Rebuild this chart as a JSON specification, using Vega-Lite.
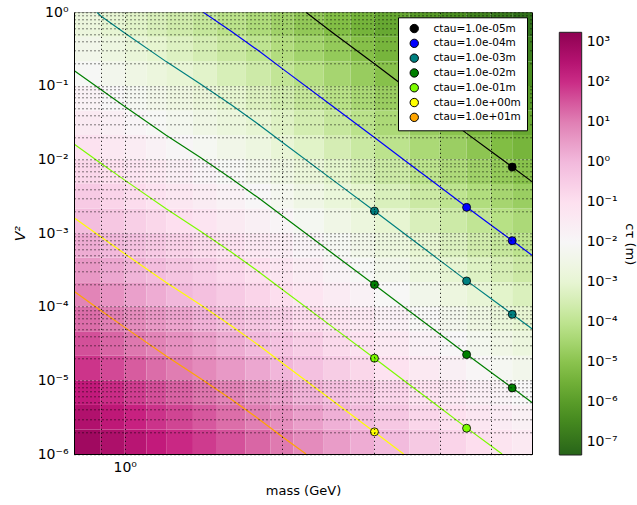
{
  "$schema": "https://vega.github.io/schema/vega-lite/v6.json",
  "width": 458,
  "height": 441.7,
  "autosize": {"type": "none"},
  "padding": {"left": 74, "top": 12.3, "right": 105, "bottom": 51},
  "config": {
    "font": "DejaVu Sans",
    "view": {"stroke": "black", "strokeWidth": 1}
  },
  "datasets": {
    "grid": [
      {"m0":0.8,"m1":0.9,"v0":1e-6,"v1":2.154e-6,"lc":2.91},{"m0":0.8,"m1":0.9,"v0":2.154e-6,"v1":4.642e-6,"lc":2.58},{"m0":0.8,"m1":0.9,"v0":4.642e-6,"v1":1e-5,"lc":2.25},{"m0":0.8,"m1":0.9,"v0":1e-5,"v1":2.154e-5,"lc":1.91},{"m0":0.8,"m1":0.9,"v0":2.154e-5,"v1":4.642e-5,"lc":1.58},{"m0":0.8,"m1":0.9,"v0":4.642e-5,"v1":1e-4,"lc":1.25},{"m0":0.8,"m1":0.9,"v0":1e-4,"v1":2.154e-4,"lc":0.91},{"m0":0.8,"m1":0.9,"v0":2.154e-4,"v1":4.642e-4,"lc":0.58},{"m0":0.8,"m1":0.9,"v0":4.642e-4,"v1":0.001,"lc":0.25},{"m0":0.8,"m1":0.9,"v0":0.001,"v1":0.002154,"lc":-0.09},{"m0":0.8,"m1":0.9,"v0":0.002154,"v1":0.004642,"lc":-0.42},{"m0":0.8,"m1":0.9,"v0":0.004642,"v1":0.01,"lc":-0.75},{"m0":0.8,"m1":0.9,"v0":0.01,"v1":0.02154,"lc":-1.09},{"m0":0.8,"m1":0.9,"v0":0.02154,"v1":0.04642,"lc":-1.42},{"m0":0.8,"m1":0.9,"v0":0.04642,"v1":0.1,"lc":-1.75},{"m0":0.8,"m1":0.9,"v0":0.1,"v1":0.2154,"lc":-2.09},{"m0":0.8,"m1":0.9,"v0":0.2154,"v1":0.4642,"lc":-2.42},{"m0":0.8,"m1":0.9,"v0":0.4642,"v1":1,"lc":-2.75},
      {"m0":0.9,"m1":1.0,"v0":1e-6,"v1":2.154e-6,"lc":2.66},{"m0":0.9,"m1":1.0,"v0":2.154e-6,"v1":4.642e-6,"lc":2.33},{"m0":0.9,"m1":1.0,"v0":4.642e-6,"v1":1e-5,"lc":2.0},{"m0":0.9,"m1":1.0,"v0":1e-5,"v1":2.154e-5,"lc":1.66},{"m0":0.9,"m1":1.0,"v0":2.154e-5,"v1":4.642e-5,"lc":1.33},{"m0":0.9,"m1":1.0,"v0":4.642e-5,"v1":1e-4,"lc":1.0},{"m0":0.9,"m1":1.0,"v0":1e-4,"v1":2.154e-4,"lc":0.66},{"m0":0.9,"m1":1.0,"v0":2.154e-4,"v1":4.642e-4,"lc":0.33},{"m0":0.9,"m1":1.0,"v0":4.642e-4,"v1":0.001,"lc":0.0},{"m0":0.9,"m1":1.0,"v0":0.001,"v1":0.002154,"lc":-0.34},{"m0":0.9,"m1":1.0,"v0":0.002154,"v1":0.004642,"lc":-0.67},{"m0":0.9,"m1":1.0,"v0":0.004642,"v1":0.01,"lc":-1.0},{"m0":0.9,"m1":1.0,"v0":0.01,"v1":0.02154,"lc":-1.34},{"m0":0.9,"m1":1.0,"v0":0.02154,"v1":0.04642,"lc":-1.67},{"m0":0.9,"m1":1.0,"v0":0.04642,"v1":0.1,"lc":-2.0},{"m0":0.9,"m1":1.0,"v0":0.1,"v1":0.2154,"lc":-2.34},{"m0":0.9,"m1":1.0,"v0":0.2154,"v1":0.4642,"lc":-2.67},{"m0":0.9,"m1":1.0,"v0":0.4642,"v1":1,"lc":-3.0},
      {"m0":1.0,"m1":1.1,"v0":1e-6,"v1":2.154e-6,"lc":2.45},{"m0":1.0,"m1":1.1,"v0":2.154e-6,"v1":4.642e-6,"lc":2.12},{"m0":1.0,"m1":1.1,"v0":4.642e-6,"v1":1e-5,"lc":1.79},{"m0":1.0,"m1":1.1,"v0":1e-5,"v1":2.154e-5,"lc":1.45},{"m0":1.0,"m1":1.1,"v0":2.154e-5,"v1":4.642e-5,"lc":1.12},{"m0":1.0,"m1":1.1,"v0":4.642e-5,"v1":1e-4,"lc":0.79},{"m0":1.0,"m1":1.1,"v0":1e-4,"v1":2.154e-4,"lc":0.45},{"m0":1.0,"m1":1.1,"v0":2.154e-4,"v1":4.642e-4,"lc":0.12},{"m0":1.0,"m1":1.1,"v0":4.642e-4,"v1":0.001,"lc":-0.21},{"m0":1.0,"m1":1.1,"v0":0.001,"v1":0.002154,"lc":-0.55},{"m0":1.0,"m1":1.1,"v0":0.002154,"v1":0.004642,"lc":-0.88},{"m0":1.0,"m1":1.1,"v0":0.004642,"v1":0.01,"lc":-1.21},{"m0":1.0,"m1":1.1,"v0":0.01,"v1":0.02154,"lc":-1.55},{"m0":1.0,"m1":1.1,"v0":0.02154,"v1":0.04642,"lc":-1.88},{"m0":1.0,"m1":1.1,"v0":0.04642,"v1":0.1,"lc":-2.21},{"m0":1.0,"m1":1.1,"v0":0.1,"v1":0.2154,"lc":-2.55},{"m0":1.0,"m1":1.1,"v0":0.2154,"v1":0.4642,"lc":-2.88},{"m0":1.0,"m1":1.1,"v0":0.4642,"v1":1,"lc":-3.21},
      {"m0":1.1,"m1":1.2,"v0":1e-6,"v1":2.154e-6,"lc":2.25},{"m0":1.1,"m1":1.2,"v0":2.154e-6,"v1":4.642e-6,"lc":1.92},{"m0":1.1,"m1":1.2,"v0":4.642e-6,"v1":1e-5,"lc":1.59},{"m0":1.1,"m1":1.2,"v0":1e-5,"v1":2.154e-5,"lc":1.25},{"m0":1.1,"m1":1.2,"v0":2.154e-5,"v1":4.642e-5,"lc":0.92},{"m0":1.1,"m1":1.2,"v0":4.642e-5,"v1":1e-4,"lc":0.59},{"m0":1.1,"m1":1.2,"v0":1e-4,"v1":2.154e-4,"lc":0.25},{"m0":1.1,"m1":1.2,"v0":2.154e-4,"v1":4.642e-4,"lc":-0.08},{"m0":1.1,"m1":1.2,"v0":4.642e-4,"v1":0.001,"lc":-0.41},{"m0":1.1,"m1":1.2,"v0":0.001,"v1":0.002154,"lc":-0.75},{"m0":1.1,"m1":1.2,"v0":0.002154,"v1":0.004642,"lc":-1.08},{"m0":1.1,"m1":1.2,"v0":0.004642,"v1":0.01,"lc":-1.41},{"m0":1.1,"m1":1.2,"v0":0.01,"v1":0.02154,"lc":-1.75},{"m0":1.1,"m1":1.2,"v0":0.02154,"v1":0.04642,"lc":-2.08},{"m0":1.1,"m1":1.2,"v0":0.04642,"v1":0.1,"lc":-2.41},{"m0":1.1,"m1":1.2,"v0":0.1,"v1":0.2154,"lc":-2.75},{"m0":1.1,"m1":1.2,"v0":0.2154,"v1":0.4642,"lc":-3.08},{"m0":1.1,"m1":1.2,"v0":0.4642,"v1":1,"lc":-3.41},
      {"m0":1.2,"m1":1.35,"v0":1e-6,"v1":2.154e-6,"lc":2.04},{"m0":1.2,"m1":1.35,"v0":2.154e-6,"v1":4.642e-6,"lc":1.71},{"m0":1.2,"m1":1.35,"v0":4.642e-6,"v1":1e-5,"lc":1.38},{"m0":1.2,"m1":1.35,"v0":1e-5,"v1":2.154e-5,"lc":1.04},{"m0":1.2,"m1":1.35,"v0":2.154e-5,"v1":4.642e-5,"lc":0.71},{"m0":1.2,"m1":1.35,"v0":4.642e-5,"v1":1e-4,"lc":0.38},{"m0":1.2,"m1":1.35,"v0":1e-4,"v1":2.154e-4,"lc":0.04},{"m0":1.2,"m1":1.35,"v0":2.154e-4,"v1":4.642e-4,"lc":-0.29},{"m0":1.2,"m1":1.35,"v0":4.642e-4,"v1":0.001,"lc":-0.62},{"m0":1.2,"m1":1.35,"v0":0.001,"v1":0.002154,"lc":-0.96},{"m0":1.2,"m1":1.35,"v0":0.002154,"v1":0.004642,"lc":-1.29},{"m0":1.2,"m1":1.35,"v0":0.004642,"v1":0.01,"lc":-1.62},{"m0":1.2,"m1":1.35,"v0":0.01,"v1":0.02154,"lc":-1.96},{"m0":1.2,"m1":1.35,"v0":0.02154,"v1":0.04642,"lc":-2.29},{"m0":1.2,"m1":1.35,"v0":0.04642,"v1":0.1,"lc":-2.62},{"m0":1.2,"m1":1.35,"v0":0.1,"v1":0.2154,"lc":-2.96},{"m0":1.2,"m1":1.35,"v0":0.2154,"v1":0.4642,"lc":-3.29},{"m0":1.2,"m1":1.35,"v0":0.4642,"v1":1,"lc":-3.62},
      {"m0":1.35,"m1":1.5,"v0":1e-6,"v1":2.154e-6,"lc":1.82},{"m0":1.35,"m1":1.5,"v0":2.154e-6,"v1":4.642e-6,"lc":1.49},{"m0":1.35,"m1":1.5,"v0":4.642e-6,"v1":1e-5,"lc":1.16},{"m0":1.35,"m1":1.5,"v0":1e-5,"v1":2.154e-5,"lc":0.82},{"m0":1.35,"m1":1.5,"v0":2.154e-5,"v1":4.642e-5,"lc":0.49},{"m0":1.35,"m1":1.5,"v0":4.642e-5,"v1":1e-4,"lc":0.16},{"m0":1.35,"m1":1.5,"v0":1e-4,"v1":2.154e-4,"lc":-0.18},{"m0":1.35,"m1":1.5,"v0":2.154e-4,"v1":4.642e-4,"lc":-0.51},{"m0":1.35,"m1":1.5,"v0":4.642e-4,"v1":0.001,"lc":-0.84},{"m0":1.35,"m1":1.5,"v0":0.001,"v1":0.002154,"lc":-1.18},{"m0":1.35,"m1":1.5,"v0":0.002154,"v1":0.004642,"lc":-1.51},{"m0":1.35,"m1":1.5,"v0":0.004642,"v1":0.01,"lc":-1.84},{"m0":1.35,"m1":1.5,"v0":0.01,"v1":0.02154,"lc":-2.18},{"m0":1.35,"m1":1.5,"v0":0.02154,"v1":0.04642,"lc":-2.51},{"m0":1.35,"m1":1.5,"v0":0.04642,"v1":0.1,"lc":-2.84},{"m0":1.35,"m1":1.5,"v0":0.1,"v1":0.2154,"lc":-3.18},{"m0":1.35,"m1":1.5,"v0":0.2154,"v1":0.4642,"lc":-3.51},{"m0":1.35,"m1":1.5,"v0":0.4642,"v1":1,"lc":-3.84},
      {"m0":1.5,"m1":1.7,"v0":1e-6,"v1":2.154e-6,"lc":1.57},{"m0":1.5,"m1":1.7,"v0":2.154e-6,"v1":4.642e-6,"lc":1.24},{"m0":1.5,"m1":1.7,"v0":4.642e-6,"v1":1e-5,"lc":0.91},{"m0":1.5,"m1":1.7,"v0":1e-5,"v1":2.154e-5,"lc":0.57},{"m0":1.5,"m1":1.7,"v0":2.154e-5,"v1":4.642e-5,"lc":0.24},{"m0":1.5,"m1":1.7,"v0":4.642e-5,"v1":1e-4,"lc":-0.09},{"m0":1.5,"m1":1.7,"v0":1e-4,"v1":2.154e-4,"lc":-0.43},{"m0":1.5,"m1":1.7,"v0":2.154e-4,"v1":4.642e-4,"lc":-0.76},{"m0":1.5,"m1":1.7,"v0":4.642e-4,"v1":0.001,"lc":-1.09},{"m0":1.5,"m1":1.7,"v0":0.001,"v1":0.002154,"lc":-1.43},{"m0":1.5,"m1":1.7,"v0":0.002154,"v1":0.004642,"lc":-1.76},{"m0":1.5,"m1":1.7,"v0":0.004642,"v1":0.01,"lc":-2.09},{"m0":1.5,"m1":1.7,"v0":0.01,"v1":0.02154,"lc":-2.43},{"m0":1.5,"m1":1.7,"v0":0.02154,"v1":0.04642,"lc":-2.76},{"m0":1.5,"m1":1.7,"v0":0.04642,"v1":0.1,"lc":-3.09},{"m0":1.5,"m1":1.7,"v0":0.1,"v1":0.2154,"lc":-3.43},{"m0":1.5,"m1":1.7,"v0":0.2154,"v1":0.4642,"lc":-3.76},{"m0":1.5,"m1":1.7,"v0":0.4642,"v1":1,"lc":-4.09},
      {"m0":1.7,"m1":1.9,"v0":1e-6,"v1":2.154e-6,"lc":1.33},{"m0":1.7,"m1":1.9,"v0":2.154e-6,"v1":4.642e-6,"lc":1.0},{"m0":1.7,"m1":1.9,"v0":4.642e-6,"v1":1e-5,"lc":0.67},{"m0":1.7,"m1":1.9,"v0":1e-5,"v1":2.154e-5,"lc":0.33},{"m0":1.7,"m1":1.9,"v0":2.154e-5,"v1":4.642e-5,"lc":0.0},{"m0":1.7,"m1":1.9,"v0":4.642e-5,"v1":1e-4,"lc":-0.33},{"m0":1.7,"m1":1.9,"v0":1e-4,"v1":2.154e-4,"lc":-0.67},{"m0":1.7,"m1":1.9,"v0":2.154e-4,"v1":4.642e-4,"lc":-1.0},{"m0":1.7,"m1":1.9,"v0":4.642e-4,"v1":0.001,"lc":-1.33},{"m0":1.7,"m1":1.9,"v0":0.001,"v1":0.002154,"lc":-1.67},{"m0":1.7,"m1":1.9,"v0":0.002154,"v1":0.004642,"lc":-2.0},{"m0":1.7,"m1":1.9,"v0":0.004642,"v1":0.01,"lc":-2.33},{"m0":1.7,"m1":1.9,"v0":0.01,"v1":0.02154,"lc":-2.67},{"m0":1.7,"m1":1.9,"v0":0.02154,"v1":0.04642,"lc":-3.0},{"m0":1.7,"m1":1.9,"v0":0.04642,"v1":0.1,"lc":-3.33},{"m0":1.7,"m1":1.9,"v0":0.1,"v1":0.2154,"lc":-3.67},{"m0":1.7,"m1":1.9,"v0":0.2154,"v1":0.4642,"lc":-4.0},{"m0":1.7,"m1":1.9,"v0":0.4642,"v1":1,"lc":-4.33},
      {"m0":1.9,"m1":2.1,"v0":1e-6,"v1":2.154e-6,"lc":1.08},{"m0":1.9,"m1":2.1,"v0":2.154e-6,"v1":4.642e-6,"lc":0.75},{"m0":1.9,"m1":2.1,"v0":4.642e-6,"v1":1e-5,"lc":0.42},{"m0":1.9,"m1":2.1,"v0":1e-5,"v1":2.154e-5,"lc":0.08},{"m0":1.9,"m1":2.1,"v0":2.154e-5,"v1":4.642e-5,"lc":-0.25},{"m0":1.9,"m1":2.1,"v0":4.642e-5,"v1":1e-4,"lc":-0.58},{"m0":1.9,"m1":2.1,"v0":1e-4,"v1":2.154e-4,"lc":-0.92},{"m0":1.9,"m1":2.1,"v0":2.154e-4,"v1":4.642e-4,"lc":-1.25},{"m0":1.9,"m1":2.1,"v0":4.642e-4,"v1":0.001,"lc":-1.58},{"m0":1.9,"m1":2.1,"v0":0.001,"v1":0.002154,"lc":-1.92},{"m0":1.9,"m1":2.1,"v0":0.002154,"v1":0.004642,"lc":-2.25},{"m0":1.9,"m1":2.1,"v0":0.004642,"v1":0.01,"lc":-2.58},{"m0":1.9,"m1":2.1,"v0":0.01,"v1":0.02154,"lc":-2.92},{"m0":1.9,"m1":2.1,"v0":0.02154,"v1":0.04642,"lc":-3.25},{"m0":1.9,"m1":2.1,"v0":0.04642,"v1":0.1,"lc":-3.58},{"m0":1.9,"m1":2.1,"v0":0.1,"v1":0.2154,"lc":-3.92},{"m0":1.9,"m1":2.1,"v0":0.2154,"v1":0.4642,"lc":-4.25},{"m0":1.9,"m1":2.1,"v0":0.4642,"v1":1,"lc":-4.58},
      {"m0":2.1,"m1":2.4,"v0":1e-6,"v1":2.154e-6,"lc":0.8},{"m0":2.1,"m1":2.4,"v0":2.154e-6,"v1":4.642e-6,"lc":0.47},{"m0":2.1,"m1":2.4,"v0":4.642e-6,"v1":1e-5,"lc":0.14},{"m0":2.1,"m1":2.4,"v0":1e-5,"v1":2.154e-5,"lc":-0.2},{"m0":2.1,"m1":2.4,"v0":2.154e-5,"v1":4.642e-5,"lc":-0.53},{"m0":2.1,"m1":2.4,"v0":4.642e-5,"v1":1e-4,"lc":-0.86},{"m0":2.1,"m1":2.4,"v0":1e-4,"v1":2.154e-4,"lc":-1.2},{"m0":2.1,"m1":2.4,"v0":2.154e-4,"v1":4.642e-4,"lc":-1.53},{"m0":2.1,"m1":2.4,"v0":4.642e-4,"v1":0.001,"lc":-1.86},{"m0":2.1,"m1":2.4,"v0":0.001,"v1":0.002154,"lc":-2.2},{"m0":2.1,"m1":2.4,"v0":0.002154,"v1":0.004642,"lc":-2.53},{"m0":2.1,"m1":2.4,"v0":0.004642,"v1":0.01,"lc":-2.86},{"m0":2.1,"m1":2.4,"v0":0.01,"v1":0.02154,"lc":-3.2},{"m0":2.1,"m1":2.4,"v0":0.02154,"v1":0.04642,"lc":-3.53},{"m0":2.1,"m1":2.4,"v0":0.04642,"v1":0.1,"lc":-3.86},{"m0":2.1,"m1":2.4,"v0":0.1,"v1":0.2154,"lc":-4.2},{"m0":2.1,"m1":2.4,"v0":0.2154,"v1":0.4642,"lc":-4.53},{"m0":2.1,"m1":2.4,"v0":0.4642,"v1":1,"lc":-4.86},
      {"m0":2.4,"m1":2.7,"v0":1e-6,"v1":2.154e-6,"lc":0.51},{"m0":2.4,"m1":2.7,"v0":2.154e-6,"v1":4.642e-6,"lc":0.18},{"m0":2.4,"m1":2.7,"v0":4.642e-6,"v1":1e-5,"lc":-0.15},{"m0":2.4,"m1":2.7,"v0":1e-5,"v1":2.154e-5,"lc":-0.49},{"m0":2.4,"m1":2.7,"v0":2.154e-5,"v1":4.642e-5,"lc":-0.82},{"m0":2.4,"m1":2.7,"v0":4.642e-5,"v1":1e-4,"lc":-1.15},{"m0":2.4,"m1":2.7,"v0":1e-4,"v1":2.154e-4,"lc":-1.49},{"m0":2.4,"m1":2.7,"v0":2.154e-4,"v1":4.642e-4,"lc":-1.82},{"m0":2.4,"m1":2.7,"v0":4.642e-4,"v1":0.001,"lc":-2.15},{"m0":2.4,"m1":2.7,"v0":0.001,"v1":0.002154,"lc":-2.49},{"m0":2.4,"m1":2.7,"v0":0.002154,"v1":0.004642,"lc":-2.82},{"m0":2.4,"m1":2.7,"v0":0.004642,"v1":0.01,"lc":-3.15},{"m0":2.4,"m1":2.7,"v0":0.01,"v1":0.02154,"lc":-3.49},{"m0":2.4,"m1":2.7,"v0":0.02154,"v1":0.04642,"lc":-3.82},{"m0":2.4,"m1":2.7,"v0":0.04642,"v1":0.1,"lc":-4.15},{"m0":2.4,"m1":2.7,"v0":0.1,"v1":0.2154,"lc":-4.49},{"m0":2.4,"m1":2.7,"v0":0.2154,"v1":0.4642,"lc":-4.82},{"m0":2.4,"m1":2.7,"v0":0.4642,"v1":1,"lc":-5.15},
      {"m0":2.7,"m1":3.0,"v0":1e-6,"v1":2.154e-6,"lc":0.25},{"m0":2.7,"m1":3.0,"v0":2.154e-6,"v1":4.642e-6,"lc":-0.08},{"m0":2.7,"m1":3.0,"v0":4.642e-6,"v1":1e-5,"lc":-0.41},{"m0":2.7,"m1":3.0,"v0":1e-5,"v1":2.154e-5,"lc":-0.75},{"m0":2.7,"m1":3.0,"v0":2.154e-5,"v1":4.642e-5,"lc":-1.08},{"m0":2.7,"m1":3.0,"v0":4.642e-5,"v1":1e-4,"lc":-1.41},{"m0":2.7,"m1":3.0,"v0":1e-4,"v1":2.154e-4,"lc":-1.75},{"m0":2.7,"m1":3.0,"v0":2.154e-4,"v1":4.642e-4,"lc":-2.08},{"m0":2.7,"m1":3.0,"v0":4.642e-4,"v1":0.001,"lc":-2.41},{"m0":2.7,"m1":3.0,"v0":0.001,"v1":0.002154,"lc":-2.75},{"m0":2.7,"m1":3.0,"v0":0.002154,"v1":0.004642,"lc":-3.08},{"m0":2.7,"m1":3.0,"v0":0.004642,"v1":0.01,"lc":-3.41},{"m0":2.7,"m1":3.0,"v0":0.01,"v1":0.02154,"lc":-3.75},{"m0":2.7,"m1":3.0,"v0":0.02154,"v1":0.04642,"lc":-4.08},{"m0":2.7,"m1":3.0,"v0":0.04642,"v1":0.1,"lc":-4.41},{"m0":2.7,"m1":3.0,"v0":0.1,"v1":0.2154,"lc":-4.75},{"m0":2.7,"m1":3.0,"v0":0.2154,"v1":0.4642,"lc":-5.08},{"m0":2.7,"m1":3.0,"v0":0.4642,"v1":1,"lc":-5.41},
      {"m0":3.0,"m1":3.5,"v0":1e-6,"v1":2.154e-6,"lc":-0.05},{"m0":3.0,"m1":3.5,"v0":2.154e-6,"v1":4.642e-6,"lc":-0.38},{"m0":3.0,"m1":3.5,"v0":4.642e-6,"v1":1e-5,"lc":-0.71},{"m0":3.0,"m1":3.5,"v0":1e-5,"v1":2.154e-5,"lc":-1.05},{"m0":3.0,"m1":3.5,"v0":2.154e-5,"v1":4.642e-5,"lc":-1.38},{"m0":3.0,"m1":3.5,"v0":4.642e-5,"v1":1e-4,"lc":-1.71},{"m0":3.0,"m1":3.5,"v0":1e-4,"v1":2.154e-4,"lc":-2.05},{"m0":3.0,"m1":3.5,"v0":2.154e-4,"v1":4.642e-4,"lc":-2.38},{"m0":3.0,"m1":3.5,"v0":4.642e-4,"v1":0.001,"lc":-2.71},{"m0":3.0,"m1":3.5,"v0":0.001,"v1":0.002154,"lc":-3.05},{"m0":3.0,"m1":3.5,"v0":0.002154,"v1":0.004642,"lc":-3.38},{"m0":3.0,"m1":3.5,"v0":0.004642,"v1":0.01,"lc":-3.71},{"m0":3.0,"m1":3.5,"v0":0.01,"v1":0.02154,"lc":-4.05},{"m0":3.0,"m1":3.5,"v0":0.02154,"v1":0.04642,"lc":-4.38},{"m0":3.0,"m1":3.5,"v0":0.04642,"v1":0.1,"lc":-4.71},{"m0":3.0,"m1":3.5,"v0":0.1,"v1":0.2154,"lc":-5.05},{"m0":3.0,"m1":3.5,"v0":0.2154,"v1":0.4642,"lc":-5.38},{"m0":3.0,"m1":3.5,"v0":0.4642,"v1":1,"lc":-5.71},
      {"m0":3.5,"m1":4.0,"v0":1e-6,"v1":2.154e-6,"lc":-0.39},{"m0":3.5,"m1":4.0,"v0":2.154e-6,"v1":4.642e-6,"lc":-0.72},{"m0":3.5,"m1":4.0,"v0":4.642e-6,"v1":1e-5,"lc":-1.05},{"m0":3.5,"m1":4.0,"v0":1e-5,"v1":2.154e-5,"lc":-1.39},{"m0":3.5,"m1":4.0,"v0":2.154e-5,"v1":4.642e-5,"lc":-1.72},{"m0":3.5,"m1":4.0,"v0":4.642e-5,"v1":1e-4,"lc":-2.05},{"m0":3.5,"m1":4.0,"v0":1e-4,"v1":2.154e-4,"lc":-2.39},{"m0":3.5,"m1":4.0,"v0":2.154e-4,"v1":4.642e-4,"lc":-2.72},{"m0":3.5,"m1":4.0,"v0":4.642e-4,"v1":0.001,"lc":-3.05},{"m0":3.5,"m1":4.0,"v0":0.001,"v1":0.002154,"lc":-3.39},{"m0":3.5,"m1":4.0,"v0":0.002154,"v1":0.004642,"lc":-3.72},{"m0":3.5,"m1":4.0,"v0":0.004642,"v1":0.01,"lc":-4.05},{"m0":3.5,"m1":4.0,"v0":0.01,"v1":0.02154,"lc":-4.39},{"m0":3.5,"m1":4.0,"v0":0.02154,"v1":0.04642,"lc":-4.72},{"m0":3.5,"m1":4.0,"v0":0.04642,"v1":0.1,"lc":-5.05},{"m0":3.5,"m1":4.0,"v0":0.1,"v1":0.2154,"lc":-5.39},{"m0":3.5,"m1":4.0,"v0":0.2154,"v1":0.4642,"lc":-5.72},{"m0":3.5,"m1":4.0,"v0":0.4642,"v1":1,"lc":-6.05},
      {"m0":4.0,"m1":4.5,"v0":1e-6,"v1":2.154e-6,"lc":-0.68},{"m0":4.0,"m1":4.5,"v0":2.154e-6,"v1":4.642e-6,"lc":-1.01},{"m0":4.0,"m1":4.5,"v0":4.642e-6,"v1":1e-5,"lc":-1.34},{"m0":4.0,"m1":4.5,"v0":1e-5,"v1":2.154e-5,"lc":-1.68},{"m0":4.0,"m1":4.5,"v0":2.154e-5,"v1":4.642e-5,"lc":-2.01},{"m0":4.0,"m1":4.5,"v0":4.642e-5,"v1":1e-4,"lc":-2.34},{"m0":4.0,"m1":4.5,"v0":1e-4,"v1":2.154e-4,"lc":-2.68},{"m0":4.0,"m1":4.5,"v0":2.154e-4,"v1":4.642e-4,"lc":-3.01},{"m0":4.0,"m1":4.5,"v0":4.642e-4,"v1":0.001,"lc":-3.34},{"m0":4.0,"m1":4.5,"v0":0.001,"v1":0.002154,"lc":-3.68},{"m0":4.0,"m1":4.5,"v0":0.002154,"v1":0.004642,"lc":-4.01},{"m0":4.0,"m1":4.5,"v0":0.004642,"v1":0.01,"lc":-4.34},{"m0":4.0,"m1":4.5,"v0":0.01,"v1":0.02154,"lc":-4.68},{"m0":4.0,"m1":4.5,"v0":0.02154,"v1":0.04642,"lc":-5.01},{"m0":4.0,"m1":4.5,"v0":0.04642,"v1":0.1,"lc":-5.34},{"m0":4.0,"m1":4.5,"v0":0.1,"v1":0.2154,"lc":-5.68},{"m0":4.0,"m1":4.5,"v0":0.2154,"v1":0.4642,"lc":-6.01},{"m0":4.0,"m1":4.5,"v0":0.4642,"v1":1,"lc":-6.34},
      {"m0":4.5,"m1":5.0,"v0":1e-6,"v1":2.154e-6,"lc":-0.94},{"m0":4.5,"m1":5.0,"v0":2.154e-6,"v1":4.642e-6,"lc":-1.27},{"m0":4.5,"m1":5.0,"v0":4.642e-6,"v1":1e-5,"lc":-1.6},{"m0":4.5,"m1":5.0,"v0":1e-5,"v1":2.154e-5,"lc":-1.94},{"m0":4.5,"m1":5.0,"v0":2.154e-5,"v1":4.642e-5,"lc":-2.27},{"m0":4.5,"m1":5.0,"v0":4.642e-5,"v1":1e-4,"lc":-2.6},{"m0":4.5,"m1":5.0,"v0":1e-4,"v1":2.154e-4,"lc":-2.94},{"m0":4.5,"m1":5.0,"v0":2.154e-4,"v1":4.642e-4,"lc":-3.27},{"m0":4.5,"m1":5.0,"v0":4.642e-4,"v1":0.001,"lc":-3.6},{"m0":4.5,"m1":5.0,"v0":0.001,"v1":0.002154,"lc":-3.94},{"m0":4.5,"m1":5.0,"v0":0.002154,"v1":0.004642,"lc":-4.27},{"m0":4.5,"m1":5.0,"v0":0.004642,"v1":0.01,"lc":-4.6},{"m0":4.5,"m1":5.0,"v0":0.01,"v1":0.02154,"lc":-4.94},{"m0":4.5,"m1":5.0,"v0":0.02154,"v1":0.04642,"lc":-5.27},{"m0":4.5,"m1":5.0,"v0":0.04642,"v1":0.1,"lc":-5.6},{"m0":4.5,"m1":5.0,"v0":0.1,"v1":0.2154,"lc":-5.94},{"m0":4.5,"m1":5.0,"v0":0.2154,"v1":0.4642,"lc":-6.27},{"m0":4.5,"m1":5.0,"v0":0.4642,"v1":1,"lc":-6.6},
      {"m0":5.0,"m1":5.5,"v0":1e-6,"v1":2.154e-6,"lc":-1.16},{"m0":5.0,"m1":5.5,"v0":2.154e-6,"v1":4.642e-6,"lc":-1.49},{"m0":5.0,"m1":5.5,"v0":4.642e-6,"v1":1e-5,"lc":-1.82},{"m0":5.0,"m1":5.5,"v0":1e-5,"v1":2.154e-5,"lc":-2.16},{"m0":5.0,"m1":5.5,"v0":2.154e-5,"v1":4.642e-5,"lc":-2.49},{"m0":5.0,"m1":5.5,"v0":4.642e-5,"v1":1e-4,"lc":-2.82},{"m0":5.0,"m1":5.5,"v0":1e-4,"v1":2.154e-4,"lc":-3.16},{"m0":5.0,"m1":5.5,"v0":2.154e-4,"v1":4.642e-4,"lc":-3.49},{"m0":5.0,"m1":5.5,"v0":4.642e-4,"v1":0.001,"lc":-3.82},{"m0":5.0,"m1":5.5,"v0":0.001,"v1":0.002154,"lc":-4.16},{"m0":5.0,"m1":5.5,"v0":0.002154,"v1":0.004642,"lc":-4.49},{"m0":5.0,"m1":5.5,"v0":0.004642,"v1":0.01,"lc":-4.82},{"m0":5.0,"m1":5.5,"v0":0.01,"v1":0.02154,"lc":-5.16},{"m0":5.0,"m1":5.5,"v0":0.02154,"v1":0.04642,"lc":-5.49},{"m0":5.0,"m1":5.5,"v0":0.04642,"v1":0.1,"lc":-5.82},{"m0":5.0,"m1":5.5,"v0":0.1,"v1":0.2154,"lc":-6.16},{"m0":5.0,"m1":5.5,"v0":0.2154,"v1":0.4642,"lc":-6.49},{"m0":5.0,"m1":5.5,"v0":0.4642,"v1":1,"lc":-6.82},
      {"m0":5.5,"m1":6.0,"v0":1e-6,"v1":2.154e-6,"lc":-1.37},{"m0":5.5,"m1":6.0,"v0":2.154e-6,"v1":4.642e-6,"lc":-1.7},{"m0":5.5,"m1":6.0,"v0":4.642e-6,"v1":1e-5,"lc":-2.03},{"m0":5.5,"m1":6.0,"v0":1e-5,"v1":2.154e-5,"lc":-2.37},{"m0":5.5,"m1":6.0,"v0":2.154e-5,"v1":4.642e-5,"lc":-2.7},{"m0":5.5,"m1":6.0,"v0":4.642e-5,"v1":1e-4,"lc":-3.03},{"m0":5.5,"m1":6.0,"v0":1e-4,"v1":2.154e-4,"lc":-3.37},{"m0":5.5,"m1":6.0,"v0":2.154e-4,"v1":4.642e-4,"lc":-3.7},{"m0":5.5,"m1":6.0,"v0":4.642e-4,"v1":0.001,"lc":-4.03},{"m0":5.5,"m1":6.0,"v0":0.001,"v1":0.002154,"lc":-4.37},{"m0":5.5,"m1":6.0,"v0":0.002154,"v1":0.004642,"lc":-4.7},{"m0":5.5,"m1":6.0,"v0":0.004642,"v1":0.01,"lc":-5.03},{"m0":5.5,"m1":6.0,"v0":0.01,"v1":0.02154,"lc":-5.37},{"m0":5.5,"m1":6.0,"v0":0.02154,"v1":0.04642,"lc":-5.7},{"m0":5.5,"m1":6.0,"v0":0.04642,"v1":0.1,"lc":-6.03},{"m0":5.5,"m1":6.0,"v0":0.1,"v1":0.2154,"lc":-6.37},{"m0":5.5,"m1":6.0,"v0":0.2154,"v1":0.4642,"lc":-6.7},{"m0":5.5,"m1":6.0,"v0":0.4642,"v1":1,"lc":-7.03}
    ],
    "lines": [
      {"s":"ctau=1.0e-05m","m":2.22,"v":1},{"s":"ctau=1.0e-05m","m":2.5,"v":0.525},{"s":"ctau=1.0e-05m","m":3,"v":0.1995},{"s":"ctau=1.0e-05m","m":3.5,"v":0.0871},{"s":"ctau=1.0e-05m","m":4,"v":0.0427},{"s":"ctau=1.0e-05m","m":4.5,"v":0.02265},{"s":"ctau=1.0e-05m","m":5,"v":0.01303},{"s":"ctau=1.0e-05m","m":5.5,"v":0.00794},{"s":"ctau=1.0e-05m","m":6,"v":0.00501},
      {"s":"ctau=1.0e-04m","m":1.413,"v":1},{"s":"ctau=1.0e-04m","m":1.6,"v":0.5495},{"s":"ctau=1.0e-04m","m":1.8,"v":0.302},{"s":"ctau=1.0e-04m","m":2,"v":0.1718},{"s":"ctau=1.0e-04m","m":2.5,"v":0.0525},{"s":"ctau=1.0e-04m","m":3,"v":0.01995},{"s":"ctau=1.0e-04m","m":3.5,"v":0.00871},{"s":"ctau=1.0e-04m","m":4,"v":0.00427},{"s":"ctau=1.0e-04m","m":4.5,"v":0.002265},{"s":"ctau=1.0e-04m","m":5,"v":0.001303},{"s":"ctau=1.0e-04m","m":5.5,"v":0.000794},{"s":"ctau=1.0e-04m","m":6,"v":0.000501},
      {"s":"ctau=1.0e-03m","m":0.885,"v":1},{"s":"ctau=1.0e-03m","m":0.9,"v":0.891},{"s":"ctau=1.0e-03m","m":1,"v":0.525},{"s":"ctau=1.0e-03m","m":1.2,"v":0.2138},{"s":"ctau=1.0e-03m","m":1.4,"v":0.1047},{"s":"ctau=1.0e-03m","m":1.6,"v":0.05495},{"s":"ctau=1.0e-03m","m":1.8,"v":0.0302},{"s":"ctau=1.0e-03m","m":2,"v":0.01718},{"s":"ctau=1.0e-03m","m":2.5,"v":0.00525},{"s":"ctau=1.0e-03m","m":3,"v":0.001995},{"s":"ctau=1.0e-03m","m":3.5,"v":0.000871},{"s":"ctau=1.0e-03m","m":4,"v":0.000427},{"s":"ctau=1.0e-03m","m":4.5,"v":0.0002265},{"s":"ctau=1.0e-03m","m":5,"v":0.0001303},{"s":"ctau=1.0e-03m","m":5.5,"v":7.94e-5},{"s":"ctau=1.0e-03m","m":6,"v":5.01e-5},
      {"s":"ctau=1.0e-02m","m":0.8,"v":0.1622},{"s":"ctau=1.0e-02m","m":0.9,"v":0.0891},{"s":"ctau=1.0e-02m","m":1,"v":0.0525},{"s":"ctau=1.0e-02m","m":1.2,"v":0.02138},{"s":"ctau=1.0e-02m","m":1.4,"v":0.01047},{"s":"ctau=1.0e-02m","m":1.6,"v":0.005495},{"s":"ctau=1.0e-02m","m":1.8,"v":0.00302},{"s":"ctau=1.0e-02m","m":2,"v":0.001718},{"s":"ctau=1.0e-02m","m":2.5,"v":0.000525},{"s":"ctau=1.0e-02m","m":3,"v":0.0001995},{"s":"ctau=1.0e-02m","m":3.5,"v":8.71e-5},{"s":"ctau=1.0e-02m","m":4,"v":4.27e-5},{"s":"ctau=1.0e-02m","m":4.5,"v":2.265e-5},{"s":"ctau=1.0e-02m","m":5,"v":1.303e-5},{"s":"ctau=1.0e-02m","m":5.5,"v":7.94e-6},{"s":"ctau=1.0e-02m","m":6,"v":5.01e-6},
      {"s":"ctau=1.0e-01m","m":0.8,"v":0.01622},{"s":"ctau=1.0e-01m","m":0.9,"v":0.00891},{"s":"ctau=1.0e-01m","m":1,"v":0.00525},{"s":"ctau=1.0e-01m","m":1.2,"v":0.002138},{"s":"ctau=1.0e-01m","m":1.4,"v":0.001047},{"s":"ctau=1.0e-01m","m":1.6,"v":0.0005495},{"s":"ctau=1.0e-01m","m":1.8,"v":0.000302},{"s":"ctau=1.0e-01m","m":2,"v":0.0001718},{"s":"ctau=1.0e-01m","m":2.5,"v":5.25e-5},{"s":"ctau=1.0e-01m","m":3,"v":1.995e-5},{"s":"ctau=1.0e-01m","m":3.5,"v":8.71e-6},{"s":"ctau=1.0e-01m","m":4,"v":4.27e-6},{"s":"ctau=1.0e-01m","m":4.5,"v":2.265e-6},{"s":"ctau=1.0e-01m","m":5,"v":1.303e-6},{"s":"ctau=1.0e-01m","m":5.26,"v":1e-6},
      {"s":"ctau=1.0e+00m","m":0.8,"v":0.001622},{"s":"ctau=1.0e+00m","m":0.9,"v":0.000891},{"s":"ctau=1.0e+00m","m":1,"v":0.000525},{"s":"ctau=1.0e+00m","m":1.2,"v":0.0002138},{"s":"ctau=1.0e+00m","m":1.4,"v":0.0001047},{"s":"ctau=1.0e+00m","m":1.6,"v":5.495e-5},{"s":"ctau=1.0e+00m","m":1.8,"v":3.02e-5},{"s":"ctau=1.0e+00m","m":2,"v":1.718e-5},{"s":"ctau=1.0e+00m","m":2.5,"v":5.25e-6},{"s":"ctau=1.0e+00m","m":3,"v":1.995e-6},{"s":"ctau=1.0e+00m","m":3.41,"v":1e-6},
      {"s":"ctau=1.0e+01m","m":0.8,"v":0.0001622},{"s":"ctau=1.0e+01m","m":0.9,"v":8.91e-5},{"s":"ctau=1.0e+01m","m":1,"v":5.25e-5},{"s":"ctau=1.0e+01m","m":1.2,"v":2.138e-5},{"s":"ctau=1.0e+01m","m":1.4,"v":1.047e-5},{"s":"ctau=1.0e+01m","m":1.6,"v":5.495e-6},{"s":"ctau=1.0e+01m","m":1.8,"v":3.02e-6},{"s":"ctau=1.0e+01m","m":2,"v":1.718e-6},{"s":"ctau=1.0e+01m","m":2.22,"v":1e-6}
    ],
    "pts": [
      {"s":"ctau=1.0e-05m","m":5.5,"v":0.0079},
      {"s":"ctau=1.0e-04m","m":4.5,"v":0.00224},{"s":"ctau=1.0e-04m","m":5.5,"v":0.00079},
      {"s":"ctau=1.0e-03m","m":3,"v":0.002},{"s":"ctau=1.0e-03m","m":4.5,"v":0.000224},{"s":"ctau=1.0e-03m","m":5.5,"v":7.9e-5},
      {"s":"ctau=1.0e-02m","m":3,"v":0.0002},{"s":"ctau=1.0e-02m","m":4.5,"v":2.24e-5},{"s":"ctau=1.0e-02m","m":5.5,"v":7.9e-6},
      {"s":"ctau=1.0e-01m","m":3,"v":2e-5},{"s":"ctau=1.0e-01m","m":4.5,"v":2.24e-6},
      {"s":"ctau=1.0e+00m","m":3,"v":2e-6}
    ]
  },
  "layer": [
    {
      "data": {"name": "grid"},
      "mark": {"type": "rect", "strokeWidth": 0, "clip": true},
      "encoding": {
        "x": {"field": "m0", "type": "quantitative",
              "scale": {"type": "log", "domain": [0.8, 6], "nice": false},
              "axis": {"title": "mass (GeV)", "values": [0.8, 0.9, 1, 2, 3, 4, 5, 6],
                       "labelExpr": "datum.value == 1 ? '10⁰' : ''",
                       "grid": true, "gridColor": "black", "gridDash": [1, 3], "gridWidth": 1, "gridOpacity": 1,
                       "ticks": false, "domainColor": "black", "labelFontSize": 14, "labelPadding": 6,
                       "labelOverlap": false, "labelFlush": false, "labelColor": "black",
                       "titleFontSize": 13, "titleFontWeight": "normal", "titleColor": "black", "titlePadding": 10, "zindex": 1}},
        "x2": {"field": "m1"},
        "y": {"field": "v0", "type": "quantitative",
              "scale": {"type": "log", "domain": [1e-6, 1], "nice": false},
              "axis": {"title": "V²", "values": [1e-6,2e-6,3e-6,4e-6,5e-6,6e-6,7e-6,8e-6,9e-6,1e-5,2e-5,3e-5,4e-5,5e-5,6e-5,7e-5,8e-5,9e-5,1e-4,2e-4,3e-4,4e-4,5e-4,6e-4,7e-4,8e-4,9e-4,0.001,0.002,0.003,0.004,0.005,0.006,0.007,0.008,0.009,0.01,0.02,0.03,0.04,0.05,0.06,0.07,0.08,0.09,0.1,0.2,0.3,0.4,0.5,0.6,0.7,0.8,0.9,1],
                       "labelExpr": "abs(log(datum.value)/LN10 - round(log(datum.value)/LN10)) < 0.001 ? '10' + (datum.value < 0.5 ? '⁻' : '') + ['⁰','¹','²','³','⁴','⁵','⁶','⁷','⁸','⁹'][abs(round(log(datum.value)/LN10))] : ''",
                       "grid": true, "gridColor": "black", "gridDash": [1, 3], "gridWidth": 1, "gridOpacity": 1,
                       "ticks": false, "domainColor": "black", "labelFontSize": 14, "labelPadding": 6,
                       "labelOverlap": false, "labelFlush": false, "labelColor": "black",
                       "titleFontSize": 14, "titleFontStyle": "italic", "titleFontWeight": "normal", "titleColor": "black", "titlePadding": 10, "zindex": 1}},
        "y2": {"field": "v1"},
        "fill": {"field": "lc", "type": "quantitative",
                 "scale": {"domain": [-7.32, -6.263, -5.206, -4.149, -3.092, -2.035, -0.978, 0.079, 1.136, 2.193, 3.25],
                           "range": ["#276419", "#4d9221", "#7fbc41", "#b8e186", "#e6f5d0", "#f7f7f7", "#fde0ef", "#f1b6da", "#de77ae", "#c51b7d", "#8e0152"],
                           "interpolate": "rgb", "clamp": true},
                 "legend": {"type": "gradient", "title": "cτ (m)", "orient": "none", "legendX": 485.3, "legendY": 20,
                            "direction": "vertical", "gradientLength": 422.7, "gradientThickness": 22.4,
                            "gradientStrokeColor": "#222222", "gradientStrokeWidth": 1,
                            "values": [-7, -6, -5, -4, -3, -2, -1, 0, 1, 2, 3],
                            "labelExpr": "'10' + (datum.value < 0 ? '⁻' : '') + ['⁰','¹','²','³','⁴','⁵','⁶','⁷','⁸','⁹'][abs(datum.value)]",
                            "labelFontSize": 14, "labelOffset": 5, "labelColor": "black", "labelOverlap": false,
                            "titleOrient": "right", "titleAngle": 270, "titleAnchor": "middle", "titleFontSize": 13,
                            "titleFontWeight": "normal", "titleColor": "black", "titlePadding": 6, "padding": 0}}
      }
    },
    {
      "data": {"name": "lines"},
      "mark": {"type": "line", "strokeWidth": 1.2, "clip": true},
      "encoding": {
        "x": {"field": "m", "type": "quantitative", "scale": {"type": "log", "domain": [0.8, 6], "nice": false}},
        "y": {"field": "v", "type": "quantitative", "scale": {"type": "log", "domain": [1e-6, 1], "nice": false}},
        "stroke": {"field": "s", "type": "nominal",
                  "scale": {"domain": ["ctau=1.0e+01m", "ctau=1.0e+00m", "ctau=1.0e-01m", "ctau=1.0e-02m", "ctau=1.0e-03m", "ctau=1.0e-04m", "ctau=1.0e-05m"],
                            "range": ["#ffa500", "#ffff00", "#7cfc00", "#008000", "#008080", "#0000ff", "#000000"]},
                  "legend": null}
      }
    },
    {
      "data": {"name": "pts"},
      "mark": {"type": "point", "filled": true, "size": 64, "stroke": "black", "strokeWidth": 0.8, "opacity": 1, "clip": true},
      "encoding": {
        "x": {"field": "m", "type": "quantitative", "scale": {"type": "log", "domain": [0.8, 6], "nice": false}},
        "y": {"field": "v", "type": "quantitative", "scale": {"type": "log", "domain": [1e-6, 1], "nice": false}},
        "color": {"field": "s", "type": "nominal",
                  "scale": {"domain": ["ctau=1.0e-05m", "ctau=1.0e-04m", "ctau=1.0e-03m", "ctau=1.0e-02m", "ctau=1.0e-01m", "ctau=1.0e+00m", "ctau=1.0e+01m"],
                            "range": ["#000000", "#0000ff", "#008080", "#008000", "#7cfc00", "#ffff00", "#ffa500"]},
                  "legend": {"title": null, "orient": "top-right", "offset": 5, "padding": 6, "zindex": 2,
                             "strokeColor": "black", "fillColor": "white", "cornerRadius": 0,
                             "symbolType": "circle", "symbolSize": 70, "symbolStrokeColor": "black", "symbolStrokeWidth": 1,
                             "symbolOpacity": 1, "symbolOffset": 5, "labelOffset": 14, "labelFontSize": 10.5,
                             "labelColor": "black", "rowPadding": 1.8}}
      }
    }
  ]
}
